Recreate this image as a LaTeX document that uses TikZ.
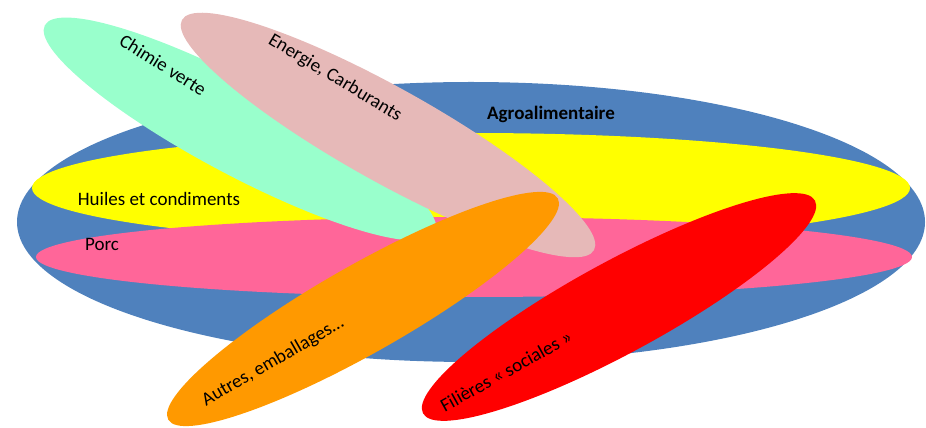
\documentclass[tikz,border=0pt]{standalone}
\usepackage{fontspec}
\setmainfont{Carlito}
\usetikzlibrary{positioning}

\definecolor{agroblue}{HTML}{4F81BD}
\definecolor{huileyellow}{HTML}{FFFF00}
\definecolor{porcpink}{HTML}{FF6699}
\definecolor{chimiemint}{HTML}{99FFCC}
\definecolor{energierose}{HTML}{E6B9B8}
\definecolor{autresorange}{HTML}{FF9900}
\definecolor{socialred}{HTML}{FF0000}

\tikzset{
    lbl/.style={font=\fontsize{19}{22}\selectfont, inner sep=0pt},
}

\begin{document}
\begin{tikzpicture}[x=1pt, y=1pt]
            \useasboundingbox (0,0) rectangle (926,428);

            % Agroalimentaire
            \fill[agroblue] (471,206) ellipse (454 and 140);
            \node[lbl, font=\fontsize{19}{22}\selectfont\bfseries] (agro) at (551,314) {Agroalimentaire};

            % Huiles et condiments
            \fill[huileyellow] (471,240) ellipse (439 and 55);
            \node[lbl] (huiles) at (159,229) {Huiles et condiments};

            % Porc
            \fill[porcpink] (474,171) ellipse (438 and 40);
            \node[lbl] (porc) at (102,184) {Porc};

            % Chimie verte
            \fill[chimiemint, rotate around={-28:(240,299)}] (240,299) ellipse (221 and 46);
            \node[lbl, rotate=-32] (chimie) at (163,363) {Chimie verte};

            % Energie
            \fill[energierose, rotate around={-29.2:(388,293)}] (388,293) ellipse (236 and 47);
            \node[lbl, rotate=-31] (energie) at (335,350) {Energie, Carburants};

            % Autres
            \fill[autresorange, rotate around={29.6:(363,119)}] (363,119) ellipse (224 and 44);
            \node[lbl, rotate=30] (autres) at (273,66) {Autres, emballages…};

            % Filieres sociales
            \fill[socialred, rotate around={28.5:(619,121)}] (619,121) ellipse (223 and 46);
            \node[lbl, rotate=29] (sociales) at (506,57) {Filières « sociales »};

        \end{tikzpicture}
\end{document}
